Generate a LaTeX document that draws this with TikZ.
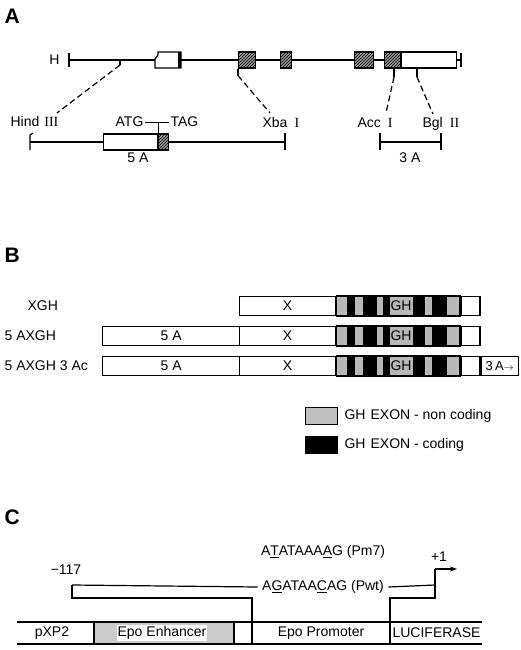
\documentclass[tikz,border=0pt]{standalone}
\usepackage{fontspec}
\setmainfont{Liberation Sans}
\newfontfamily\romfont{Liberation Serif}
\usetikzlibrary{arrows.meta, patterns}

\begin{document}
\begin{tikzpicture}[x=1pt, y=-1pt, line width=1.2pt, >=stealth,
    every node/.style={font=\fontsize{14}{16}\selectfont, inner sep=1pt},
    panel/.style={font=\fontsize{21}{23}\selectfont\bfseries, anchor=west},
    hatched/.style={draw, preaction={fill=black!40}, pattern=north east lines, minimum height=16pt, inner sep=0, anchor=west},
    plainbox/.style={draw, fill=white, minimum height=16pt, inner sep=0, anchor=west},
    rowbox/.style={draw, fill=white, minimum height=19pt, inner sep=0, anchor=west},
    legbox/.style={draw, minimum width=32pt, minimum height=17pt, inner sep=0, anchor=west},
    longdash/.style={dash pattern=on 6pt off 3.5pt}]
    \useasboundingbox (0,0) rectangle (520,650);

    % ---------------- A ----------------
    \node[panel] (pA) at (3,16) {A};

    % genomic map
    \node[anchor=east] (hlab) at (61,60) {H};
    \coordinate (hL) at (69,60);
    \coordinate (hR) at (461,60);
    \draw (69,53) -- (69,67);
    \draw (461,53) -- (461,67);
    % first exon with its broken left edge
    \draw[fill=white] (158,52) -- (158,55) -- (155,59) -- (155,68) -- (181,68) -- (181,52) -- cycle;
    \fill (178,52) rectangle (181,68);
    \coordinate (ex1w) at (155,60);
    \coordinate (ex1e) at (181,60);
    \node[hatched, minimum width=17pt] (ex2) at (238,60) {};
    \node[hatched, minimum width=11pt] (ex3) at (280,60) {};
    \node[hatched, minimum width=19pt] (ex4) at (354,60) {};
    \node[hatched, minimum width=16pt] (ex5) at (384,60) {};
    \node[plainbox, minimum width=55pt] (utr) at (ex5.east) {};
    \draw (hL) -- (ex1w) (ex1e) -- (ex2) (ex2) -- (ex3) (ex3) -- (ex4) (ex4) -- (ex5) (utr) -- (hR);

    % 5 A fragment
    \node[plainbox, minimum width=54pt] (box5a) at (103,142) {};
    \node[hatched, minimum width=10pt] (stop) at (box5a.east) {};
    \coordinate (aL) at (30,142);
    \coordinate (aR) at (285,142);
    \draw (aL) -- (box5a) (stop) -- (aR);
    \draw (33,133) -- (30,135) -- (30,150);
    \draw (285,133) -- (285,150);
    \node[anchor=base west] (hind) at (9,127) {Hind\hspace{5pt}{\romfont III}};
    \node[anchor=base west] (xba) at (261,128) {Xba\hspace{7pt}{\romfont I}};
    \node[anchor=base east] (atg) at (145,127) {ATG};
    \node[anchor=base west] (tag) at (169,127) {TAG};
    \draw (atg.east) -- (tag.west);
    \draw (box5a.north east) -- (box5a.north east |- atg.east);
    \node (lab5a) at (138,158) {5 A};

    % 3 A fragment
    \coordinate (bL) at (380,142);
    \coordinate (bR) at (441,142);
    \draw (bL) -- (bR);
    \draw (380,133) -- (380,150) (441,133) -- (441,150);
    \node[anchor=base west] (acc) at (356,128) {Acc\hspace{7pt}{\romfont I}};
    \node[anchor=base west] (bgl) at (421,128) {Bgl\hspace{7pt}{\romfont II}};
    \node (lab3a) at (410,158) {3 A};

    % dashed links between the maps
    \draw (120,60) -- (120,65) coordinate (sH);
    \draw (ex2.south west) -- ++(0,7) coordinate (sX);
    \draw (394,68) -- (394,77) coordinate (sA);
    \draw (417,68) -- (417,77) coordinate (sB);
    \coordinate (tH) at (57,113);
    \coordinate (tX) at (270,113);
    \coordinate (tA) at (386,113);
    \coordinate (tB) at (433,114);
    \draw[longdash] (sH) -- (tH) (sX) -- (tX) (sA) -- (tA) (sB) -- (tB);

    % ---------------- B ----------------
    \node[panel] (pB) at (3,255) {B};

    \node[anchor=west] (r1) at (26,306) {XGH};
    \node[anchor=west] (r2) at (3,336) {5 AXGH};
    \node[anchor=west] (r3) at (3,366) {5 AXGH 3 Ac};

    \node[rowbox, minimum width=137pt] (a2) at (102,336) {5 A};
    \node[rowbox, minimum width=137pt] (a3) at (102,366) {5 A};
    \foreach \y/\r in {306/1, 336/2, 366/3} {
        \node[rowbox, minimum width=96pt] (x\r) at (239,\y) {X};
        \node[rowbox, fill=black!28, minimum width=123pt] (gh\r) at (x\r.east) {};
        \foreach \a/\b in {347/355, 363/377, 383/390, 413/425, 432/447}
            \fill (\a,\y-9.5) rectangle (\b,\y+9.5);
        \draw (gh\r.north west) rectangle (gh\r.south east);
        \node (ghl\r) at (401,\y) {GH};
        \node[rowbox, minimum width=19pt] (e\r) at (gh\r.east) {};
    }
    \node[rowbox, minimum width=37pt, font=\fontsize{13}{15}\selectfont] (t3) at (e3.east) {3\,A{\fontsize{10}{10}\selectfont$\rightarrow$}};

    % legend
    \node[legbox, fill=black!25] (lg1) at (305,416) {};
    \node[anchor=west] (lt1) at (343,416) {GH\hspace{5pt}EXON - non\hspace{4pt}coding};
    \node[legbox, fill=black] (lg2) at (305,445) {};
    \node[anchor=west] (lt2) at (343,445) {GH\hspace{5pt}EXON - coding};

    % ---------------- C ----------------
    \node[panel] (pC) at (3,517) {C};

    \node (pm7) at (323,552) {A\underline{T}ATAAA\underline{A}G (Pm7)};
    \node[inner sep=4pt] (pwt) at (323,587) {A\underline{G}ATAA\underline{C}AG (Pwt)};
    \node (m117) at (66,570) {−117};
    \node (p1) at (439,557) {+1};

    % construct bar
    \coordinate (cL) at (17,622);
    \coordinate (cR) at (482,622);
    \fill[black!20] (94,622) rectangle (234,644);
    \draw (cL) -- (cR);
    \draw (17,644) -- (482,644);
    \foreach \x in {94, 234, 252, 390}
        \draw (\x,622) -- (\x,644);
    \node (pxp) at (52,633) {pXP2};
    \node[fill=white] (enh) at (162,633) {Epo\hspace{4pt}Enhancer};
    \node (pro) at (321,633) {Epo\hspace{4pt}Promoter};
    \node[anchor=west] (luc) at (391,633) {LUCIFERASE};

    % promoter bracket and start site
    \coordinate (k1) at (72,585);
    \coordinate (k2) at (435,585);
    \draw (k1) -- (pwt.west) (pwt.east) -- (k2);
    \draw (k1) -- (72,598) -- (252,598) -- (252,622);
    \draw (390,622) -- (390,598) -- (435,598) -- (435,569);
    \draw[-{Stealth[length=7pt,width=5pt]}] (435,569) -- (457,569);
\end{tikzpicture}
\end{document}
